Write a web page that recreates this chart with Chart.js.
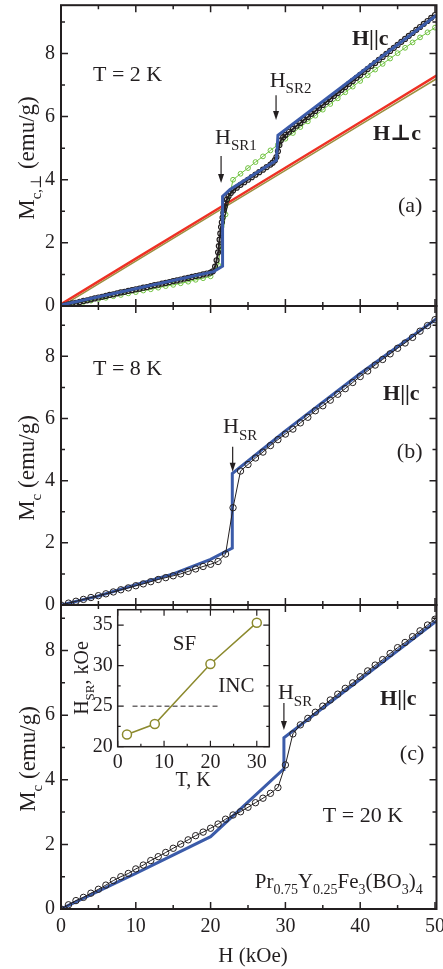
<!DOCTYPE html>
<html>
<head>
<meta charset="utf-8">
<title>Pr0.75Y0.25Fe3(BO3)4 magnetization</title>
<script src="https://cdn.jsdelivr.net/npm/chart.js@4.4.1/dist/chart.umd.min.js"></script>
<style>
  body { margin: 0; background: #fff; }
  #wrap { position: relative; width: 443px; height: 969px; overflow: hidden; }
  #wrap canvas { position: absolute; left: 0; top: 0; }
</style>
</head>
<body>
<div id="wrap">
  <canvas id="panelA" width="443" height="969"></canvas>
  <canvas id="panelB" width="443" height="969"></canvas>
  <canvas id="panelC" width="443" height="969"></canvas>
  <canvas id="inset" width="443" height="969"></canvas>
</div>
<script>
// ---- data: H in kOe, M in emu/g ----
const H_TICKS = [0, 10, 20, 30, 40, 50];
const M_TICKS = [0, 2, 4, 6, 8];
const T_TICKS = [0, 10, 20, 30];
const HSR_TICKS = [20, 25, 30, 35];

// (a) T = 2 K, H || c, measured
const H_exp2K = [0, 0.5, 1, 1.5, 2, 2.5, 3, 3.5, 4, 4.5, 5, 5.5, 6, 6.5, 7, 7.5, 8, 8.5, 9, 9.5,
  10, 10.5, 11, 11.5, 12, 12.5, 13, 13.5, 14, 14.5, 15, 15.5, 16, 16.5, 17, 17.5, 18, 18.5, 19, 19.5,
  20, 20.3, 20.6, 20.8, 21, 21.1, 21.2, 21.3, 21.4, 21.5, 21.6, 21.7, 21.8, 21.9, 22, 22.2, 22.4, 22.7,
  23, 23.5, 24, 24.5, 25, 25.5, 26, 26.5, 27, 27.5, 28, 28.3, 28.6, 28.8, 29, 29.2, 29.4, 29.7,
  30, 30.5, 31, 31.5, 32, 32.5, 33, 33.5, 34, 34.5, 35, 35.5, 36, 36.5, 37, 37.5, 38, 38.5, 39, 39.5,
  40, 40.5, 41, 41.5, 42, 42.5, 43, 43.5, 44, 44.5, 45, 45.5, 46, 46.5, 47, 47.5, 48, 48.5, 49, 49.5, 50];
const M_exp2K = [0, 0.02, 0.05, 0.08, 0.10, 0.13, 0.16, 0.18, 0.21, 0.24, 0.27, 0.29, 0.32, 0.35, 0.37, 0.40, 0.43, 0.45, 0.48, 0.50,
  0.53, 0.55, 0.58, 0.60, 0.63, 0.66, 0.68, 0.71, 0.73, 0.76, 0.79, 0.81, 0.84, 0.87, 0.89, 0.92, 0.95, 0.97, 1.00, 1.03,
  1.06, 1.10, 1.25, 1.45, 1.70, 1.90, 2.10, 2.30, 2.50, 2.65, 2.80, 2.95, 3.05, 3.15, 3.25, 3.38, 3.48, 3.58,
  3.66, 3.75, 3.84, 3.92, 4.00, 4.08, 4.16, 4.24, 4.32, 4.40, 4.48, 4.54, 4.62, 4.72, 4.90, 5.10, 5.25, 5.35,
  5.42, 5.52, 5.61, 5.71, 5.80, 5.90, 5.99, 6.09, 6.18, 6.28, 6.37, 6.47, 6.56, 6.66, 6.75, 6.85, 6.94, 7.04, 7.13, 7.23,
  7.32, 7.42, 7.51, 7.61, 7.70, 7.80, 7.89, 7.99, 8.08, 8.18, 8.27, 8.37, 8.46, 8.56, 8.65, 8.75, 8.84, 8.94, 9.03, 9.13, 9.22];
// (a) calculated H || c
const H_calc2K = [0, 20.4, 21.6, 21.6, 22.6, 28.8, 29.0, 50.2];
const M_calc2K = [0.03, 1.09, 1.26, 3.47, 3.69, 4.62, 5.41, 9.21];
// (a) green curve
const H_green2K = [0, 1, 2, 3, 4, 5, 6, 7, 8, 9, 10, 11, 12, 13, 14, 15, 16, 17, 18, 19, 20, 21, 22,
  23, 24, 25, 26, 27, 28, 29, 30, 31, 32, 33, 34, 35, 36, 37, 38, 39, 40, 41, 42, 43, 44, 45, 46, 47, 48, 49, 50];
const M_green2K = [0, 0.04, 0.08, 0.13, 0.17, 0.22, 0.26, 0.31, 0.35, 0.40, 0.44, 0.49, 0.53, 0.58, 0.63, 0.67, 0.72, 0.77, 0.83, 0.88, 0.94, 1.30, 2.90,
  4.00, 4.19, 4.37, 4.56, 4.74, 4.93, 5.11, 5.30, 5.48, 5.67, 5.85, 6.03, 6.22, 6.40, 6.58, 6.77, 6.95, 7.13, 7.31, 7.49, 7.67, 7.84, 8.01, 8.18, 8.35, 8.51, 8.67, 8.82];
// (a) H perpendicular to c
const H_perp = [0, 10, 20, 30, 40, 50.2];
const M_perpCalc = [0.06, 1.50, 2.94, 4.38, 5.82, 7.30];
const M_perpExp = [-0.02, 1.42, 2.86, 4.30, 5.74, 7.20];

// (b) T = 8 K
const H_exp8K = [0, 1, 2, 3, 4, 5, 6, 7, 8, 9, 10, 11, 12, 13, 14, 15, 16, 17, 18, 19, 20, 21, 22, 23, 24,
  25, 26, 27, 28, 29, 30, 31, 32, 33, 34, 35, 36, 37, 38, 39, 40, 41, 42, 43, 44, 45, 46, 47, 48, 49, 50];
const M_exp8K = [0, 0.06, 0.12, 0.18, 0.24, 0.30, 0.36, 0.42, 0.49, 0.55, 0.62, 0.68, 0.75, 0.82, 0.88, 0.94, 1.00, 1.08, 1.16, 1.24, 1.31, 1.40, 1.64, 3.13, 4.31,
  4.52, 4.73, 4.92, 5.13, 5.32, 5.50, 5.66, 5.86, 6.04, 6.25, 6.41, 6.59, 6.78, 6.96, 7.16, 7.35, 7.53, 7.72, 7.90, 8.08, 8.26, 8.43, 8.61, 8.81, 8.99, 9.18];
const H_calc8K = [0, 5, 10, 15, 20, 22.9, 22.9, 30, 40, 50.2];
const M_calc8K = [0, 0.29, 0.65, 1.00, 1.47, 1.83, 4.23, 5.60, 7.45, 9.21];

// (c) T = 20 K
const H_exp20K = [0, 1, 2, 3, 4, 5, 6, 7, 8, 9, 10, 11, 12, 13, 14, 15, 16, 17, 18, 19, 20, 21, 22, 23, 24,
  25, 26, 27, 28, 29, 30, 31, 32, 33, 34, 35, 36, 37, 38, 39, 40, 41, 42, 43, 44, 45, 46, 47, 48, 49, 50];
const M_exp20K = [0, 0.13, 0.26, 0.36, 0.49, 0.61, 0.74, 0.88, 1.00, 1.10, 1.24, 1.36, 1.50, 1.62, 1.75, 1.88, 2.01, 2.14, 2.27, 2.38, 2.50, 2.63, 2.78, 2.91, 3.01,
  3.15, 3.29, 3.43, 3.58, 3.76, 4.46, 5.42, 5.70, 5.90, 6.09, 6.28, 6.47, 6.65, 6.83, 7.00, 7.19, 7.37, 7.55, 7.72, 7.91, 8.09, 8.25, 8.43, 8.61, 8.79, 8.97];
const H_calc20K = [0, 10, 20, 29.7, 29.8, 50.4];
const M_calc20K = [0, 1.10, 2.24, 4.32, 5.30, 8.95];

// inset: spin-flop field vs temperature
const T_inset = [2, 8, 20, 30];
const Hsr_inset = [21.5, 22.8, 30.2, 35.3];
const T_border = [3.2, 21.7];
const H_border = [25, 25];

const FONT = '"Liberation Serif", "Times New Roman", "DejaVu Serif", serif';
const INK = '#231f20';
const BLUE = '#3b5ba9';
const RED = '#ee3124';
const GREEN = '#6fc23f';
const TAN = '#9c9040';
const OLIVE = '#8c8a2e';

function pts(xs, ys) {
  return xs.map((x, i) => ({ x: x, y: ys[i] }));
}

// text with subscripts: parts = [[text, 'n' | 's' | 'b'], ...], y is the baseline
function richText(ctx, parts, x, y, size, center) {
  const sub = Math.round(size * 0.66);
  const fontOf = p => (p[1] === 'b' ? 'bold ' : '') + (p[1] === 's' ? sub : size) + 'px ' + FONT;
  let w = 0;
  parts.forEach(p => { ctx.font = fontOf(p); w += ctx.measureText(p[0]).width; });
  let cx = center ? x - w / 2 : x;
  ctx.textAlign = 'left';
  ctx.textBaseline = 'alphabetic';
  parts.forEach(p => {
    ctx.font = fontOf(p);
    ctx.fillText(p[0], cx, p[1] === 's' ? y + size * 0.3 : y);
    cx += ctx.measureText(p[0]).width;
  });
}

// box around the plot area with inward ticks on all four sides
function frame(cfg) {
  return {
    id: 'frame',
    beforeDraw(chart) {
      if (!cfg.fill) return;
      const a = chart.chartArea, ctx = chart.ctx;
      ctx.save();
      ctx.fillStyle = '#fff';
      ctx.fillRect(a.left, a.top, a.right - a.left, a.bottom - a.top);
      ctx.restore();
    },
    afterDraw(chart) {
      const { ctx, chartArea: a, scales: { x, y } } = chart;
      const isMajor = (v, step) => Math.abs(v / step - Math.round(v / step)) < 1e-6;
      ctx.save();
      ctx.strokeStyle = INK;
      ctx.lineWidth = cfg.tickWidth;
      ctx.beginPath();
      for (let k = Math.ceil(x.min / cfg.xMinor); k * cfg.xMinor <= x.max + 1e-6; k++) {
        const v = k * cfg.xMinor;
        const len = isMajor(v, cfg.xMajor) ? cfg.major : cfg.minor;
        const px = x.getPixelForValue(v);
        ctx.moveTo(px, a.bottom); ctx.lineTo(px, a.bottom - len);
        ctx.moveTo(px, a.top); ctx.lineTo(px, a.top + len);
      }
      for (let k = Math.ceil(y.min / cfg.yMinor); k * cfg.yMinor <= y.max + 1e-6; k++) {
        const v = k * cfg.yMinor;
        const len = isMajor(v, cfg.yMajor) ? cfg.major : cfg.minor;
        const py = y.getPixelForValue(v);
        ctx.moveTo(a.left, py); ctx.lineTo(a.left + len, py);
        ctx.moveTo(a.right, py); ctx.lineTo(a.right - len, py);
      }
      ctx.stroke();
      ctx.lineWidth = cfg.lineWidth;
      ctx.strokeRect(a.left, a.top, a.right - a.left, a.bottom - a.top);
      ctx.restore();
    }
  };
}

// labels, arrows and axis titles
function notes(cfg) {
  return {
    id: 'notes',
    afterDraw(chart) {
      const { ctx, scales: { x, y } } = chart;
      ctx.save();
      ctx.fillStyle = INK;
      ctx.strokeStyle = INK;
      (cfg.texts || []).forEach(t => {
        richText(ctx, t.parts, x.getPixelForValue(t.x), y.getPixelForValue(t.y), t.size, t.center);
      });
      (cfg.arrows || []).forEach(ar => {
        const px = x.getPixelForValue(ar.x);
        const y1 = y.getPixelForValue(ar.y1), y2 = y.getPixelForValue(ar.y2);
        ctx.lineWidth = 1.2;
        ctx.beginPath(); ctx.moveTo(px, y1); ctx.lineTo(px, y2 - 6); ctx.stroke();
        ctx.beginPath(); ctx.moveTo(px - 3, y2 - 9); ctx.lineTo(px + 3, y2 - 9); ctx.lineTo(px, y2); ctx.closePath(); ctx.fill();
      });
      if (cfg.yTitle) {
        ctx.save();
        ctx.translate(cfg.yTitle.x, cfg.yTitle.y);
        ctx.rotate(-Math.PI / 2);
        richText(ctx, cfg.yTitle.parts, 0, 0, cfg.yTitle.size, true);
        ctx.restore();
      }
      if (cfg.xTitle) richText(ctx, cfg.xTitle.parts, cfg.xTitle.x, cfg.xTitle.y, cfg.xTitle.size, true);
      ctx.restore();
    }
  };
}

const tickFont = size => ({ family: FONT, size: size });
// keep the plot box exactly where the layout padding puts it
const noLabelPad = s => { s.paddingTop = 0; s.paddingBottom = 0; s.paddingLeft = 0; s.paddingRight = 0; };

function panel(id, area, yMax, datasets, notesCfg, showX) {
  const xH = showX ? 60 : 0;
  return new Chart(document.getElementById(id), {
    type: 'scatter',
    data: { datasets: datasets },
    options: {
      responsive: false,
      animation: false,
      events: [],
      layout: { padding: { left: 0, right: 443 - area.right, top: area.top, bottom: 969 - area.bottom - xH } },
      plugins: { legend: { display: false }, tooltip: { enabled: false } },
      scales: {
        x: {
          type: 'linear', min: 0, max: 50.2,
          border: { display: false },
          grid: { display: false, drawTicks: false },
          afterBuildTicks: s => { s.ticks = H_TICKS.map(v => ({ value: v })); },
          ticks: { display: showX, font: tickFont(20), color: INK, padding: 6, maxRotation: 0, autoSkip: false },
          afterFit: s => { s.height = xH; noLabelPad(s); }
        },
        y: {
          type: 'linear', min: 0, max: yMax,
          border: { display: false },
          grid: { display: false, drawTicks: false },
          afterBuildTicks: s => { s.ticks = M_TICKS.map(v => ({ value: v })); },
          ticks: { font: tickFont(20), color: INK, padding: 6, autoSkip: false },
          afterFit: s => { s.width = 61; noLabelPad(s); }
        }
      }
    },
    plugins: [
      frame({ xMinor: 5, xMajor: 10, yMinor: 1, yMajor: 2, major: 7, minor: 4, tickWidth: 1.5, lineWidth: 2 }),
      notes(notesCfg)
    ]
  });
}

const lineSet = (xs, ys, color, width) => ({
  data: pts(xs, ys), showLine: true, borderColor: color, borderWidth: width,
  pointRadius: 0, tension: 0
});
const circleSet = (xs, ys, color, r, lw, pw) => ({
  data: pts(xs, ys), showLine: true, borderColor: color, borderWidth: lw,
  pointRadius: r, pointStyle: 'circle', pointBorderColor: color, pointBorderWidth: pw || 1,
  pointBackgroundColor: 'rgba(0,0,0,0)', tension: 0
});

const HPAR = [['H||c', 'b']];
const HPERP = [['H\u22a5c', 'b']];

// ---- panel (a) ----
panel('panelA', { top: 5, bottom: 306, right: 436.5 }, 9.53, [
  lineSet(H_calc2K, M_calc2K, BLUE, 3),
  circleSet(H_exp2K, M_exp2K, INK, 2.5, 2, 1.2),
  circleSet(H_green2K, M_green2K, GREEN, 2.4, 1),
  lineSet(H_perp, M_perpCalc, RED, 2.5),
  lineSet(H_perp, M_perpExp, TAN, 1.5)
], {
  texts: [
    { parts: [['T = 2 K', 'n']], x: 4.28, y: 7.14, size: 22 },
    { parts: [['H', 'n'], ['SR2', 's']], x: 27.9, y: 6.95, size: 22 },
    { parts: [['H', 'n'], ['SR1', 's']], x: 20.6, y: 5.14, size: 22 },
    { parts: HPAR, x: 38.9, y: 8.28, size: 22 },
    { parts: HPERP, x: 41.7, y: 5.27, size: 22 },
    { parts: [['(a)', 'n']], x: 45.05, y: 2.99, size: 22 }
  ],
  arrows: [
    { x: 21.4, y1: 4.75, y2: 3.9 },
    { x: 28.75, y1: 6.68, y2: 5.89 }
  ],
  yTitle: { parts: [['M', 'n'], ['c,\u22a5', 's'], [' (emu/g)', 'n']], x: 34, y: 158, size: 23 }
}, false);

// ---- panel (b) ----
panel('panelB', { top: 306, bottom: 605, right: 436.5 }, 9.62, [
  circleSet(H_exp8K, M_exp8K, INK, 3.2, 1),
  lineSet(H_calc8K, M_calc8K, BLUE, 3)
], {
  texts: [
    { parts: [['T = 8 K', 'n']], x: 4.28, y: 7.40, size: 22 },
    { parts: HPAR, x: 43.05, y: 6.61, size: 22 },
    { parts: [['H', 'n'], ['SR', 's']], x: 21.66, y: 5.52, size: 22 },
    { parts: [['(b)', 'n']], x: 44.9, y: 4.72, size: 22 }
  ],
  arrows: [{ x: 22.95, y1: 5.09, y2: 4.29 }],
  yTitle: { parts: [['M', 'n'], ['c', 's'], [' (emu/g)', 'n']], x: 34, y: 468, size: 23 }
}, false);

// ---- panel (c) ----
panel('panelC', { top: 605, bottom: 909, right: 436.5 }, 9.41, [
  circleSet(H_exp20K, M_exp20K, INK, 3.2, 1),
  lineSet(H_calc20K, M_calc20K, BLUE, 3)
], {
  texts: [
    { parts: [['H', 'n'], ['SR', 's']], x: 29.0, y: 6.49, size: 22 },
    { parts: HPAR, x: 42.65, y: 6.33, size: 22 },
    { parts: [['(c)', 'n']], x: 45.3, y: 4.61, size: 22 },
    { parts: [['T = 20 K', 'n']], x: 35.0, y: 2.68, size: 22 },
    { parts: [['Pr', 'n'], ['0.75', 's'], ['Y', 'n'], ['0.25', 's'], ['Fe', 'n'], ['3', 's'], ['(BO', 'n'], ['3', 's'], [')', 'n'], ['4', 's']],
      x: 25.9, y: 0.65, size: 21 }
  ],
  arrows: [{ x: 29.8, y1: 6.38, y2: 5.54 }],
  yTitle: { parts: [['M', 'n'], ['c', 's'], [' (emu/g)', 'n']], x: 35, y: 759, size: 23 },
  xTitle: { parts: [['H (kOe)', 'n']], x: 253, y: 962, size: 21 }
}, true);

// ---- inset ----
new Chart(document.getElementById('inset'), {
  type: 'scatter',
  data: {
    datasets: [
      {
        data: pts(T_inset, Hsr_inset), showLine: true, borderColor: OLIVE, borderWidth: 1.5,
        pointRadius: 4.5, pointBorderColor: OLIVE, pointBorderWidth: 1.5, pointBackgroundColor: '#fff', tension: 0
      },
      {
        data: pts(T_border, H_border), showLine: true, borderColor: INK, borderWidth: 1,
        borderDash: [5, 3], pointRadius: 0
      }
    ]
  },
  options: {
    responsive: false,
    animation: false,
    events: [],
    layout: { padding: { left: 77.7, right: 173.7, top: 609.7, bottom: 192.3 } },
    plugins: { legend: { display: false }, tooltip: { enabled: false } },
    scales: {
      x: {
        type: 'linear', min: 0, max: 32.7,
        border: { display: false },
        grid: { display: false, drawTicks: false },
        afterBuildTicks: s => { s.ticks = T_TICKS.map(v => ({ value: v })); },
        ticks: { font: tickFont(20), color: INK, padding: 4, maxRotation: 0, autoSkip: false },
        afterFit: s => { s.height = 30; noLabelPad(s); }
      },
      y: {
        type: 'linear', min: 20, max: 36.9,
        border: { display: false },
        grid: { display: false, drawTicks: false },
        afterBuildTicks: s => { s.ticks = HSR_TICKS.map(v => ({ value: v })); },
        ticks: { font: tickFont(20), color: INK, padding: 5, autoSkip: false },
        afterFit: s => { s.width = 40; noLabelPad(s); }
      }
    }
  },
  plugins: [
    frame({ fill: true, xMinor: 5, xMajor: 10, yMinor: 2.5, yMajor: 5, major: 6, minor: 3, tickWidth: 1.2, lineWidth: 1.5 }),
    notes({
      texts: [
        { parts: [['SF', 'n']], x: 11.9, y: 31.93, size: 21 },
        { parts: [['INC', 'n']], x: 21.7, y: 26.8, size: 21 }
      ],
      yTitle: { parts: [['H', 'n'], ['SR', 's'], [', kOe', 'n']], x: 88, y: 678, size: 20 },
      xTitle: { parts: [['T, K', 'n']], x: 193, y: 786, size: 20 }
    })
  ]
});
</script>
</body>
</html>
